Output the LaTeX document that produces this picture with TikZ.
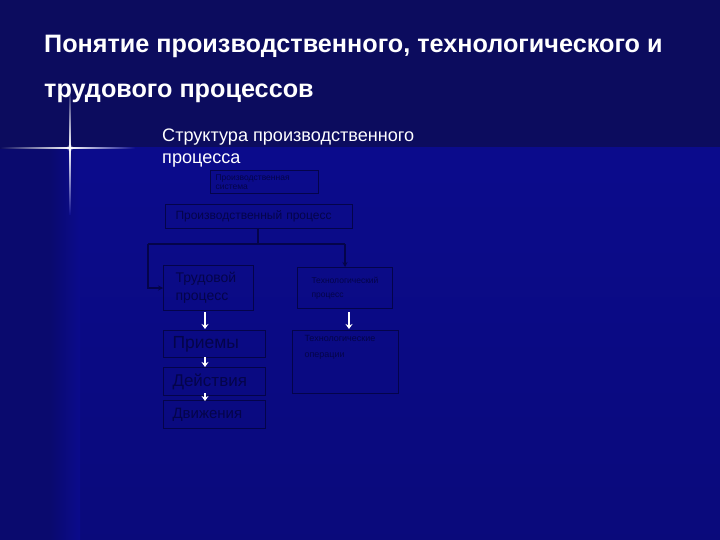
\documentclass[tikz,border=0pt]{standalone}
\usepackage{fontspec}
\setmainfont{Liberation Sans}
\usetikzlibrary{arrows.meta}
\definecolor{bgtop}{HTML}{0C0C5E}
\definecolor{bglow}{HTML}{0B0B8C}
\definecolor{bgleft}{HTML}{0A0A6E}
\definecolor{ink}{HTML}{04044A}
\definecolor{edge}{HTML}{04044A}
\tikzset{
  box/.style={draw=edge, line width=1pt, anchor=north west, inner xsep=9pt, inner ysep=2pt,
    align=left, text=ink},
  link/.style={draw=edge, line width=1.3pt},
  warrow/.style={draw=white, line width=2pt, -{Stealth[length=5pt,width=7pt]}},
  titlefont/.style={text=white, anchor=base west, inner sep=0pt, font=\bfseries\fontsize{25.2}{27}\selectfont},
  subfont/.style={text=white, anchor=base west, inner sep=0pt, font=\fontsize{18.1}{21}\selectfont}
}
\begin{document}
\begin{tikzpicture}[x=1pt,y=-1pt]
\useasboundingbox (0,0) rectangle (720,540);
% background
\fill[bgtop] (0,0) rectangle (720,148);
\shade[top color=bglow, bottom color=bglow!88!black] (0,148) rectangle (720,540);
\shade[left color=bgleft, right color=bglow] (50,148) rectangle (80,540);
\fill[bgleft] (0,148) rectangle (50,540);
% flare
\shade[top color=bgtop, bottom color=white] (69.2,85) rectangle (70.8,148);
\shade[top color=white, bottom color=bglow] (69.2,148) rectangle (70.8,215);
\shade[left color=bgtop, right color=white] (0,147.2) rectangle (70,148.8);
\shade[left color=white, right color=bglow] (70,147.2) rectangle (135,148.8);
\fill[white, opacity=0.35] (70,148) circle (3);
% title
\node[titlefont] (t1) at (44,53) {Понятие производственного, технологического и};
\node[titlefont] (t2) at (44,98) {трудового процессов};
\node[subfont] (s1) at (162,142) {Структура производственного};
\node[subfont] (s2) at (162,164) {процесса};
% boxes
\node[box, inner xsep=5pt, inner ysep=1pt, font=\fontsize{8.5}{9.5}\selectfont, minimum width=108pt, minimum height=23pt, text width=98pt] (sys) at (210,170) {Производственная\\система};
\node[box, inner xsep=10pt, font=\fontsize{12}{14}\selectfont, minimum width=187pt, minimum height=24pt, text width=167pt] (pp) at (165,204) {Производственный процесс};
\node[box, inner xsep=12pt, font=\fontsize{14}{18}\selectfont, minimum width=90pt, minimum height=45pt, text width=66pt] (tr) at (163,265) {Трудовой\\процесс};
\node[box, inner xsep=14pt, font=\fontsize{8.5}{14}\selectfont, minimum width=95pt, minimum height=41pt, text width=67pt] (tp) at (297,267) {Технологический\\процесс};
\node[box, font=\fontsize{17.5}{20}\selectfont, minimum width=102pt, minimum height=27pt, text width=84pt] (pr) at (163,330) {Приемы};
\node[box, font=\fontsize{17}{19}\selectfont, minimum width=102pt, minimum height=28pt, text width=84pt] (de) at (163,367) {Действия};
\node[box, font=\fontsize{15}{17}\selectfont, minimum width=102pt, minimum height=28pt, text width=84pt] (dv) at (163,400) {Движения};
\node[box, inner xsep=12pt, font=\fontsize{9}{16}\selectfont, minimum width=106pt, minimum height=63pt, text width=82pt] (to) at (292,330) {Технологические\\операции\\[16pt]\mbox{}};
% connectors
\coordinate (jc) at (258,244);
\coordinate (jl) at (148,244);
\coordinate (jr) at (345,244);
\draw[link] (pp.south -| jc) -- (jc);
\draw[link] (jl) -- (jr);
\draw[link, -{Stealth[length=5pt,width=5pt]}] (jr) -- (jr |- tp.north);
\draw[link, -{Stealth[length=5pt,width=5pt]}] (jl) -- (148,288) -- (tr.west |- 0,288);
\draw[warrow] (205,312) -- (205,329);
\draw[warrow] (349,312) -- (349,329);
\draw[warrow] (205,357) -- (205,367);
\draw[warrow] (205,393) -- (205,401);
\end{tikzpicture}
\end{document}
